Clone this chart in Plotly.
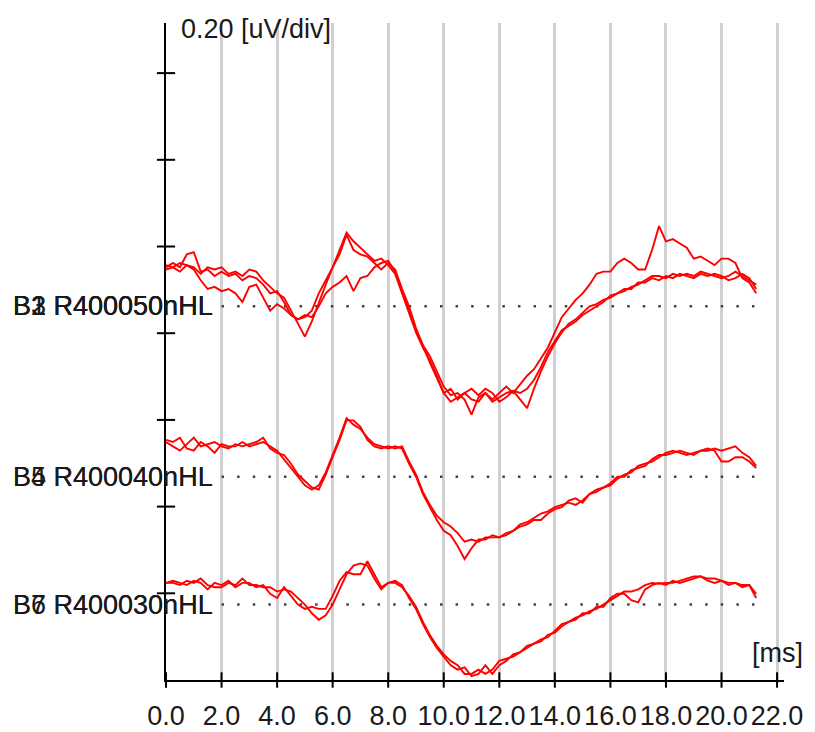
import plotly.graph_objects as go

# ---------------- data ----------------
time_ms = [0.0, 0.25, 0.5, 0.75, 1.0, 1.25, 1.5, 1.75, 2.0, 2.25,
           2.5, 2.75, 3.0, 3.25, 3.5, 3.75, 4.0, 4.25, 4.5, 4.75,
           5.0, 5.25, 5.5, 5.75, 6.0, 6.25, 6.5, 6.75, 7.0, 7.25,
           7.5, 7.75, 8.0, 8.25, 8.5, 8.75, 9.0, 9.25, 9.5, 9.75,
           10.0, 10.25, 10.5, 10.75, 11.0, 11.25, 11.5, 11.75, 12.0, 12.25,
           12.5, 12.75, 13.0, 13.25, 13.5, 13.75, 14.0, 14.25, 14.5, 14.75,
           15.0, 15.25, 15.5, 15.75, 16.0, 16.25, 16.5, 16.75, 17.0, 17.25,
           17.5, 17.75, 18.0, 18.25, 18.5, 18.75, 19.0, 19.25, 19.5, 19.75,
           20.0, 20.25, 20.5, 20.75, 21.0, 21.25]

# amplitudes (uV) relative to each trace's baseline
b1_uv = [0.090, 0.100, 0.090, 0.120, 0.125, 0.080, 0.085, 0.070, 0.080, 0.070,
         0.075, 0.060, 0.070, 0.065, 0.050, 0.030, 0.035, 0.010, -0.020, -0.030,
         -0.025, -0.010, 0.030, 0.060, 0.090, 0.120, 0.165, 0.130, 0.120, 0.115,
         0.100, 0.085, 0.100, 0.085, 0.040, 0.000, -0.050, -0.090, -0.115, -0.150,
         -0.185, -0.205, -0.200, -0.215, -0.250, -0.210, -0.200, -0.215, -0.200, -0.185,
         -0.200, -0.180, -0.160, -0.145, -0.120, -0.095, -0.060, -0.025, -0.005, 0.015,
         0.030, 0.050, 0.075, 0.080, 0.080, 0.100, 0.110, 0.100, 0.085, 0.085,
         0.130, 0.185, 0.150, 0.155, 0.145, 0.135, 0.110, 0.115, 0.105, 0.095,
         0.110, 0.110, 0.100, 0.065, 0.055, 0.030]
b2_uv = [0.095, 0.090, 0.100, 0.095, 0.090, 0.075, 0.090, 0.085, 0.090, 0.075,
         0.080, 0.070, 0.085, 0.080, 0.060, 0.045, 0.030, 0.020, -0.010, -0.040,
         -0.070, -0.035, 0.010, 0.050, 0.090, 0.130, 0.170, 0.150, 0.135, 0.120,
         0.105, 0.110, 0.095, 0.075, 0.030, -0.010, -0.060, -0.095, -0.125, -0.160,
         -0.200, -0.220, -0.210, -0.200, -0.215, -0.220, -0.200, -0.220, -0.210, -0.200,
         -0.195, -0.215, -0.235, -0.190, -0.150, -0.115, -0.085, -0.060, -0.040, -0.030,
         -0.015, 0.000, 0.005, 0.015, 0.020, 0.030, 0.035, 0.045, 0.050, 0.060,
         0.070, 0.070, 0.065, 0.075, 0.070, 0.075, 0.070, 0.080, 0.075, 0.070,
         0.065, 0.070, 0.080, 0.070, 0.060, 0.050]
b3_uv = [0.085, 0.090, 0.080, 0.095, 0.085, 0.060, 0.040, 0.045, 0.035, 0.040,
         0.030, 0.010, 0.045, 0.050, 0.020, -0.010, 0.005, -0.005, -0.020, -0.030,
         -0.020, -0.025, 0.000, 0.030, 0.045, 0.055, 0.070, 0.035, 0.065, 0.070,
         0.090, 0.100, 0.105, 0.080, 0.035, -0.010, -0.055, -0.090, -0.130, -0.165,
         -0.200, -0.190, -0.215, -0.200, -0.190, -0.205, -0.190, -0.200, -0.220, -0.210,
         -0.195, -0.200, -0.190, -0.170, -0.140, -0.105, -0.080, -0.055, -0.045, -0.035,
         -0.020, -0.010, 0.000, 0.010, 0.025, 0.030, 0.040, 0.040, 0.055, 0.055,
         0.065, 0.060, 0.070, 0.065, 0.075, 0.070, 0.065, 0.075, 0.070, 0.075,
         0.070, 0.060, 0.065, 0.075, 0.065, 0.040]
b4_uv = [0.080, 0.070, 0.060, 0.075, 0.090, 0.070, 0.075, 0.080, 0.070, 0.065,
         0.075, 0.070, 0.075, 0.080, 0.090, 0.065, 0.055, 0.050, 0.030, 0.005,
         -0.010, -0.025, -0.030, 0.005, 0.045, 0.085, 0.130, 0.130, 0.115, 0.085,
         0.070, 0.065, 0.070, 0.065, 0.070, 0.035, 0.005, -0.035, -0.065, -0.090,
         -0.105, -0.115, -0.130, -0.150, -0.145, -0.150, -0.140, -0.140, -0.140, -0.135,
         -0.125, -0.115, -0.110, -0.100, -0.100, -0.085, -0.075, -0.070, -0.055, -0.050,
         -0.060, -0.040, -0.035, -0.025, -0.020, -0.005, 0.005, 0.010, 0.025, 0.030,
         0.035, 0.045, 0.055, 0.060, 0.055, 0.050, 0.055, 0.060, 0.060, 0.065,
         0.060, 0.065, 0.070, 0.055, 0.045, 0.025]
b5_uv = [0.085, 0.080, 0.090, 0.065, 0.060, 0.080, 0.070, 0.055, 0.075, 0.070,
         0.070, 0.080, 0.070, 0.075, 0.080, 0.070, 0.060, 0.040, 0.020, 0.000,
         -0.020, -0.030, -0.020, 0.010, 0.050, 0.090, 0.135, 0.120, 0.110, 0.090,
         0.075, 0.070, 0.065, 0.070, 0.065, 0.030, 0.000, -0.040, -0.070, -0.100,
         -0.125, -0.135, -0.160, -0.190, -0.165, -0.145, -0.145, -0.135, -0.140, -0.130,
         -0.125, -0.110, -0.105, -0.095, -0.085, -0.080, -0.070, -0.065, -0.060, -0.065,
         -0.055, -0.040, -0.030, -0.025, -0.015, 0.000, 0.000, 0.015, 0.020, 0.025,
         0.040, 0.050, 0.050, 0.055, 0.060, 0.055, 0.050, 0.060, 0.065, 0.060,
         0.035, 0.035, 0.045, 0.045, 0.035, 0.020]
b6_uv = [0.050, 0.050, 0.045, 0.055, 0.050, 0.060, 0.045, 0.040, 0.040, 0.050,
         0.045, 0.060, 0.045, 0.045, 0.040, 0.040, 0.030, 0.035, 0.030, 0.015,
         0.000, -0.020, -0.035, -0.025, 0.000, 0.035, 0.070, 0.090, 0.095, 0.090,
         0.060, 0.035, 0.050, 0.050, 0.040, 0.020, -0.005, -0.040, -0.070, -0.095,
         -0.115, -0.130, -0.140, -0.160, -0.160, -0.150, -0.160, -0.150, -0.130, -0.125,
         -0.120, -0.110, -0.100, -0.090, -0.085, -0.070, -0.065, -0.050, -0.040, -0.030,
         -0.025, -0.015, -0.010, 0.000, 0.010, 0.020, 0.030, 0.030, 0.035, 0.045,
         0.050, 0.048, 0.050, 0.050, 0.055, 0.060, 0.065, 0.065, 0.060, 0.060,
         0.055, 0.050, 0.050, 0.045, 0.045, 0.015]
b7_uv = [0.050, 0.055, 0.050, 0.045, 0.055, 0.050, 0.035, 0.050, 0.045, 0.055,
         0.040, 0.050, 0.050, 0.040, 0.045, 0.025, 0.015, 0.040, 0.020, 0.000,
         -0.010, -0.005, -0.010, -0.010, 0.020, 0.055, 0.075, 0.070, 0.070, 0.100,
         0.070, 0.040, 0.050, 0.055, 0.045, 0.015, -0.010, -0.045, -0.075, -0.100,
         -0.120, -0.140, -0.150, -0.145, -0.165, -0.160, -0.140, -0.160, -0.140, -0.130,
         -0.115, -0.110, -0.095, -0.090, -0.080, -0.075, -0.060, -0.045, -0.040, -0.035,
         -0.020, -0.020, -0.005, -0.005, 0.015, 0.025, 0.025, 0.010, 0.005, 0.035,
         0.045, 0.050, 0.045, 0.055, 0.050, 0.055, 0.060, 0.065, 0.055, 0.050,
         0.055, 0.045, 0.050, 0.040, 0.045, 0.025]

level_labels = ["R400050nHL", "R400040nHL", "R400030nHL"]
level_baselines_uv = [0.862, 0.469, 0.174]
group_buffers = [["B1", "B2", "B3"], ["B4", "B5"], ["B6", "B7"]]
group_traces = [[b1_uv, b2_uv, b3_uv], [b4_uv, b5_uv], [b6_uv, b7_uv]]

x_ticks = [0, 2, 4, 6, 8, 10, 12, 14, 16, 18, 20, 22]
x_tick_text = ["0.0", "2.0", "4.0", "6.0", "8.0", "10.0", "12.0", "14.0",
               "16.0", "18.0", "20.0", "22.0"]
y_ticks = [0.2, 0.4, 0.6, 0.8, 1.0, 1.2, 1.4]
scale_label = "0.20 [uV/div]"
x_unit_label = "[ms]"
baseline_span_ms = [2.0, 21.2]

# ---------------- figure ----------------
FONT = "Liberation Sans, Arial, sans-serif"
TXT = "#1a1a1a"
fig = go.Figure()

# dotted baselines
for base in level_baselines_uv:
    fig.add_trace(go.Scatter(
        x=baseline_span_ms, y=[base, base], mode="lines",
        line=dict(color="#444444", width=2.5, dash="2.5px,13.1px"),
        hoverinfo="skip", showlegend=False))

# waveforms
for base, traces in zip(level_baselines_uv, group_traces):
    for amp in traces:
        fig.add_trace(go.Scatter(
            x=time_ms, y=[base + a for a in amp], mode="lines",
            line=dict(color="#ff0000", width=1.9),
            showlegend=False))

# cross ticks on both axes
fig.add_trace(go.Scatter(
    x=x_ticks, y=[0] * len(x_ticks), mode="markers", cliponaxis=False,
    marker=dict(symbol="line-ns-open", size=11, color="black",
                line=dict(color="black", width=2)),
    hoverinfo="skip", showlegend=False))
fig.add_trace(go.Scatter(
    x=[0] * len(y_ticks), y=y_ticks, mode="markers", cliponaxis=False,
    marker=dict(symbol="line-ew-open", size=13, color="black",
                line=dict(color="black", width=2)),
    hoverinfo="skip", showlegend=False))

annotations = []
for base, level, buffers in zip(level_baselines_uv, level_labels, group_buffers):
    for bid in buffers:
        annotations.append(dict(
            x=1.75, y=base, xref="x", yref="y", xanchor="right", yanchor="middle",
            text=f"{bid} {level}", showarrow=False,
            font=dict(family=FONT, size=27, color=TXT)))
annotations.append(dict(
    x=0.021, y=0.991, xref="paper", yref="paper", xanchor="left", yanchor="middle",
    text=scale_label, showarrow=False, font=dict(family=FONT, size=27, color=TXT)))
annotations.append(dict(
    x=1.034, y=0.041, xref="paper", yref="paper", xanchor="right", yanchor="middle",
    text=x_unit_label, showarrow=False, font=dict(family=FONT, size=27, color=TXT)))

fig.update_layout(
    width=815, height=732,
    margin=dict(l=166, r=31, t=23, b=52, pad=0, autoexpand=False),
    paper_bgcolor="white", plot_bgcolor="white",
    showlegend=False,
    annotations=annotations,
    xaxis=dict(
        range=[0, 22.25], showline=True, linecolor="black", linewidth=2,
        showgrid=True, gridcolor="#d0d0d0", gridwidth=2.5,
        tickmode="array", tickvals=x_ticks, ticktext=x_tick_text,
        ticks="", ticklabelstandoff=11, automargin=False,
        tickfont=dict(family=FONT, size=27, color=TXT),
        zeroline=False, fixedrange=True),
    yaxis=dict(
        range=[0, 1.5156], showline=True, linecolor="black", linewidth=2,
        showgrid=False, showticklabels=False, ticks="", automargin=False,
        zeroline=False, fixedrange=True),
)

fig.write_html("out.html")
